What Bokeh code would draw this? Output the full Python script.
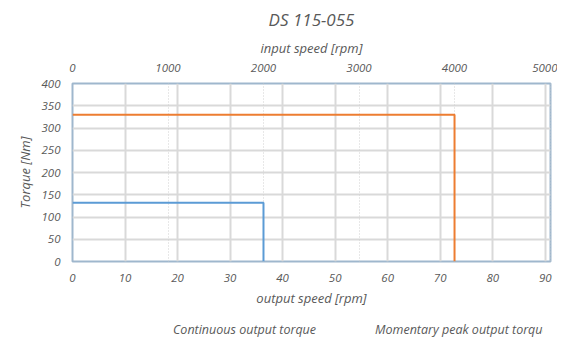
from bokeh.plotting import figure
from bokeh.layouts import column
from bokeh.models import (Range1d, LinearAxis, Grid, Title, Legend, LegendItem, FixedTicker)
from bokeh.embed import file_html
from bokeh.resources import INLINE

title_text = "DS 115-055"
series_names = ["Continuous output torque", "Momentary peak output torque"]
series_colors = ["#5b9bd5", "#ed7d31"]
cont_speed = [0, 36.36, 36.36]
cont_torque = [132, 132, 0]
peak_speed = [0, 72.73, 72.73]
peak_torque = [330, 330, 0]
output_ticks = [0, 10, 20, 30, 40, 50, 60, 70, 80, 90]
input_ticks = [0, 1000, 2000, 3000, 4000, 5000]
torque_ticks = [0, 50, 100, 150, 200, 250, 300, 350, 400]
gear_ratio = 55

FONT = "Open Sans"
TXT = "#595959"

p = figure(frame_width=478, frame_height=178, output_backend="svg", toolbar_location=None,
           x_range=Range1d(0, 91), y_range=Range1d(0, 400),
           min_border_left=72, min_border_right=7, min_border_top=6, min_border_bottom=48)
p.extra_x_ranges = {"input": Range1d(0, 91 * gear_ratio)}

bottom_axis = p.below[0]
left_axis = p.left[0]

p.title = Title(text=title_text, align="center", text_font=FONT, text_font_style="italic",
                text_font_size="17px", text_color=TXT)

top_axis = LinearAxis(x_range_name="input", axis_label="input speed [rpm]",
                      ticker=FixedTicker(ticks=input_ticks))
p.add_layout(top_axis, "above")

for ax in [bottom_axis, left_axis, top_axis]:
    ax.axis_line_color = None
    ax.major_tick_line_color = None
    ax.minor_tick_line_color = None
    ax.major_label_text_font = FONT
    ax.major_label_text_font_style = "italic"
    ax.major_label_text_font_size = "11.5px"
    ax.major_label_text_color = TXT
    ax.axis_label_text_font = FONT
    ax.axis_label_text_font_style = "italic"
    ax.axis_label_text_font_size = "13px"
    ax.axis_label_text_color = TXT
    ax.axis_label_standoff = 4
    ax.major_label_standoff = 6

bottom_axis.ticker = FixedTicker(ticks=output_ticks)
bottom_axis.axis_label = "output speed [rpm]"
left_axis.ticker = FixedTicker(ticks=torque_ticks)
left_axis.axis_label = "Torque [Nm]"

p.xgrid.grid_line_color = "#d9d9d9"
p.xgrid.grid_line_width = 2
p.ygrid.grid_line_color = "#d9d9d9"
p.ygrid.grid_line_width = 2
p.xgrid.ticker = FixedTicker(ticks=output_ticks)
p.ygrid.ticker = FixedTicker(ticks=torque_ticks)

g2 = Grid(dimension=0, ticker=FixedTicker(ticks=input_ticks), x_range_name="input",
          grid_line_color="#d0d0d0", grid_line_dash="1 2", grid_line_width=1)
p.add_layout(g2)

p.outline_line_color = "#9fb7cd"
p.outline_line_width = 2

p.line(cont_speed, cont_torque, line_color=series_colors[0], line_width=2)
p.line(peak_speed, peak_torque, line_color=series_colors[1], line_width=2)

# separate strip holding the legend
q = figure(width=550, height=34, output_backend="svg", toolbar_location=None,
           x_range=Range1d(0, 1), y_range=Range1d(0, 1),
           x_axis_type=None, y_axis_type=None,
           min_border_left=0, min_border_right=0, min_border_top=0, min_border_bottom=0)
q.outline_line_color = None
q.xgrid.visible = False
q.ygrid.visible = False
l1 = q.line(x=[], y=[], line_color=series_colors[0], line_width=2)
l2 = q.line(x=[], y=[], line_color=series_colors[1], line_width=2)

legend = Legend(items=[LegendItem(label=series_names[0], renderers=[l1]),
                       LegendItem(label=series_names[1], renderers=[l2])],
                orientation="horizontal", location=(72, 5),
                label_text_font=FONT, label_text_font_style="italic",
                label_text_font_size="12.5px", label_text_color=TXT,
                border_line_color=None, background_fill_alpha=0,
                glyph_width=25, glyph_height=14, label_height=14, label_standoff=4,
                spacing=30, padding=0, margin=0)
q.add_layout(legend, "center")

layout = column(p, q, spacing=0)
open("out.html", "w").write(file_html(layout, INLINE))
